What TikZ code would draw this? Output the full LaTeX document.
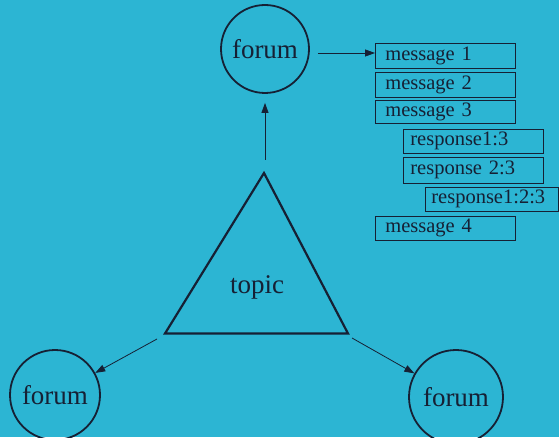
\documentclass[tikz,border=0pt]{standalone}
\usepackage{fontspec}
\setmainfont{Liberation Serif}
\usetikzlibrary{arrows.meta}
\definecolor{bgcyan}{RGB}{44,181,211}
\definecolor{ink}{RGB}{22,32,52}
\begin{document}
\begin{tikzpicture}[x=1pt,y=1pt,
  forum/.style={circle, draw=ink, line width=1.8pt, inner sep=0pt, minimum size=88pt,
    font=\fontsize{27}{29}\selectfont, text=ink},
  msg/.style={draw=ink, line width=0.7pt, anchor=north west, inner ysep=0pt,
    align=left, font=\fontsize{20.5}{22}\selectfont, text=ink},
  conn/.style={draw=ink, line width=0.8pt, -{Triangle[length=10pt,width=7pt]}}]
\fill[bgcyan] (0,0) rectangle (559,437);
\useasboundingbox (0,0) rectangle (559,437);

% forums
\node[forum] (fT) at (265,388) {forum};
\node[forum, minimum size=90pt] (fL) at (55,42) {forum};
\node[forum, minimum size=94pt] (fR) at (456,40) {forum};

% topic triangle
\coordinate (tA) at (264,264);
\coordinate (tB) at (165,103.5);
\coordinate (tC) at (348,103.5);
\draw[ink, line width=2.2pt, line join=miter] (tA) -- (tB) -- (tC) -- cycle;
\node[text=ink, font=\fontsize{27}{29}\selectfont] (topic) at (257,150) {topic};

% message list
\node[msg, minimum height=25pt, inner xsep=10pt, text width=120pt] (m1) at (375,394) {message 1};
\node[msg, minimum height=25pt, inner xsep=10pt, text width=120pt] (m2) at (375,365) {message 2};
\node[msg, minimum height=23pt, inner xsep=10pt, text width=120pt] (m3) at (375,337) {message 3};
\node[msg, minimum height=24pt, inner xsep=7pt, text width=126pt] (r13) at (403,308) {response1:3};
\node[msg, minimum height=26pt, inner xsep=7pt, text width=126pt] (r23) at (403,280) {response 2:3};
\node[msg, minimum height=24pt, inner xsep=6pt, text width=121pt] (r123) at (425,250) {response1:2:3};
\node[msg, minimum height=24pt, inner xsep=10pt, text width=120pt] (m4) at (375,221) {message 4};

% connectors
\coordinate (aT) at ([xshift=8pt,yshift=-4pt]fT.east);
\draw[conn] (aT) -- (aT -| m1.west);
\coordinate (aV) at ([yshift=13pt]fT.south |- tA);
\draw[conn] (aV) -- ([yshift=-9pt]fT.south);
\coordinate (aL) at (157,98);
\draw[conn] (aL) -- (fL);
\coordinate (aR) at (352,99);
\draw[conn] (aR) -- (fR);
\end{tikzpicture}
\end{document}
